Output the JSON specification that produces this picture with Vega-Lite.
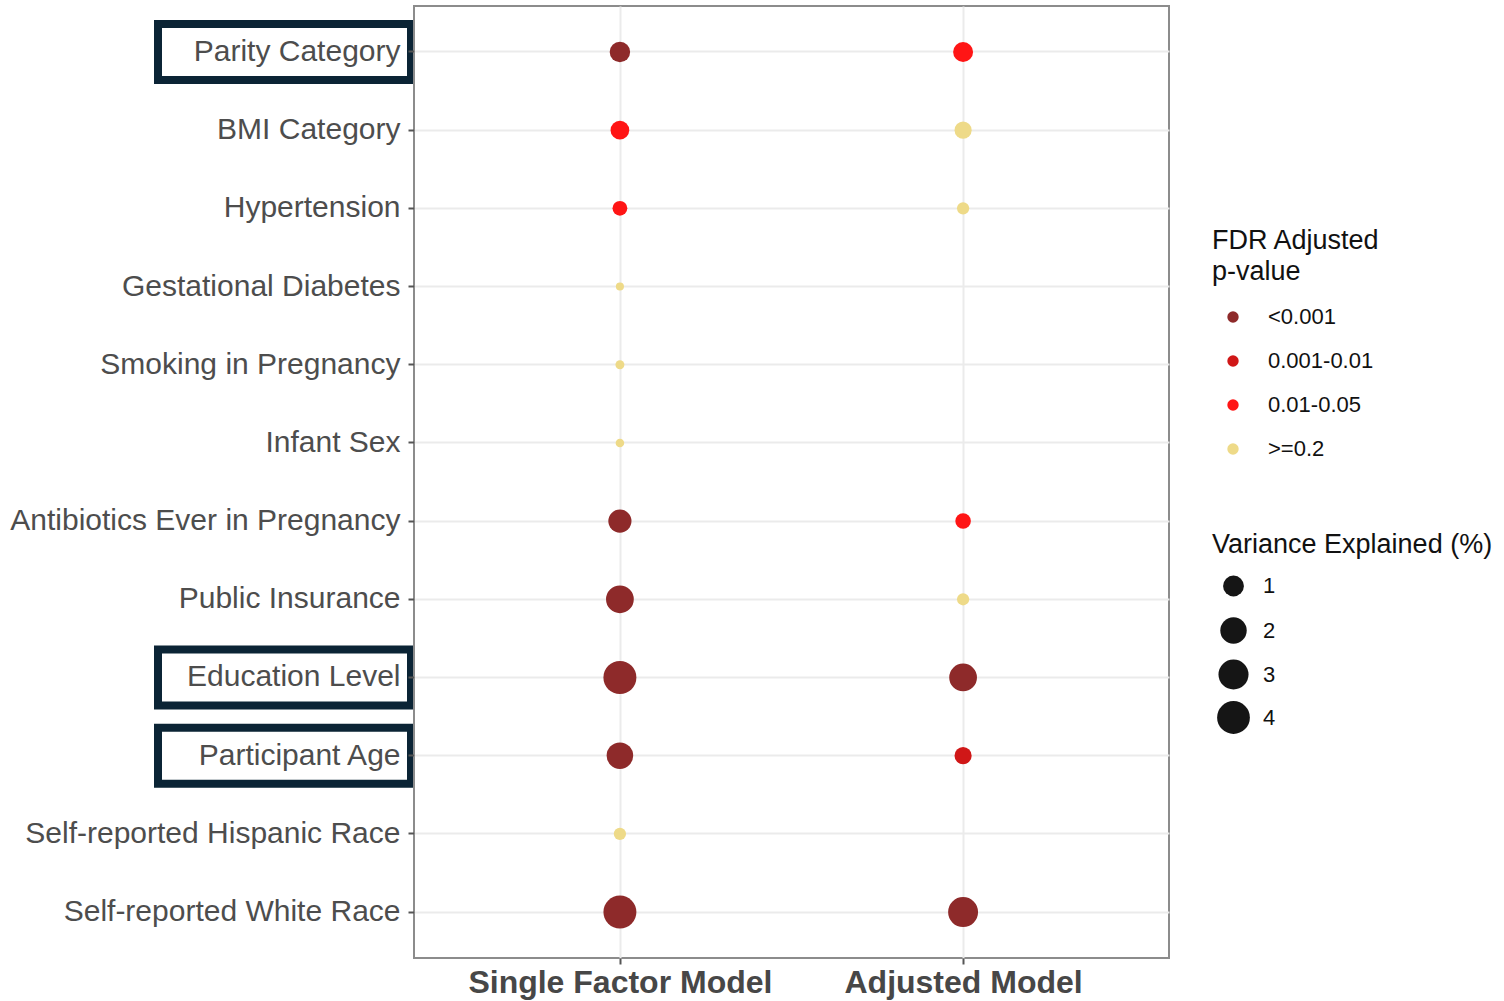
{
  "$schema": "https://vega.github.io/schema/vega-lite/v6.json",
  "background": "white",
  "padding": {"left": 8, "top": 5, "right": 5, "bottom": 5},
  "bounds": "flush",
  "spacing": 3,
  "datasets": {
    "points": [
      {"variable": "Parity Category", "model": "Single Factor Model", "fdr": "<0.001", "variance": 0.95},
      {"variable": "Parity Category", "model": "Adjusted Model", "fdr": "0.01-0.05", "variance": 0.89},
      {"variable": "BMI Category", "model": "Single Factor Model", "fdr": "0.01-0.05", "variance": 0.75},
      {"variable": "BMI Category", "model": "Adjusted Model", "fdr": ">=0.2", "variance": 0.61},
      {"variable": "Hypertension", "model": "Single Factor Model", "fdr": "0.01-0.05", "variance": 0.44},
      {"variable": "Hypertension", "model": "Adjusted Model", "fdr": ">=0.2", "variance": 0.31},
      {"variable": "Gestational Diabetes", "model": "Single Factor Model", "fdr": ">=0.2", "variance": 0.18},
      {"variable": "Smoking in Pregnancy", "model": "Single Factor Model", "fdr": ">=0.2", "variance": 0.2},
      {"variable": "Infant Sex", "model": "Single Factor Model", "fdr": ">=0.2", "variance": 0.19},
      {"variable": "Antibiotics Ever in Pregnancy", "model": "Single Factor Model", "fdr": "<0.001", "variance": 1.35},
      {"variable": "Antibiotics Ever in Pregnancy", "model": "Adjusted Model", "fdr": "0.01-0.05", "variance": 0.49},
      {"variable": "Public Insurance", "model": "Single Factor Model", "fdr": "<0.001", "variance": 2.33},
      {"variable": "Public Insurance", "model": "Adjusted Model", "fdr": ">=0.2", "variance": 0.31},
      {"variable": "Education Level", "model": "Single Factor Model", "fdr": "<0.001", "variance": 4.08},
      {"variable": "Education Level", "model": "Adjusted Model", "fdr": "<0.001", "variance": 2.33},
      {"variable": "Participant Age", "model": "Single Factor Model", "fdr": "<0.001", "variance": 2.03},
      {"variable": "Participant Age", "model": "Adjusted Model", "fdr": "0.001-0.01", "variance": 0.61},
      {"variable": "Self-reported Hispanic Race", "model": "Single Factor Model", "fdr": ">=0.2", "variance": 0.31},
      {"variable": "Self-reported White Race", "model": "Single Factor Model", "fdr": "<0.001", "variance": 4.08},
      {"variable": "Self-reported White Race", "model": "Adjusted Model", "fdr": "<0.001", "variance": 2.97}
    ],
    "boxes": [
      {"variable": "Parity Category"},
      {"variable": "Education Level"},
      {"variable": "Participant Age"}
    ]
  },
  "hconcat": [
    {
      "width": 253,
      "height": 952,
      "view": {"stroke": null},
      "data": {"name": "boxes"},
      "mark": {"type": "rect", "fill": "transparent", "stroke": "#0B2435", "strokeWidth": 8},
      "encoding": {
        "y": {
          "field": "variable", "type": "nominal", "axis": null,
          "scale": {
            "type": "band",
            "domain": ["Parity Category", "BMI Category", "Hypertension", "Gestational Diabetes", "Smoking in Pregnancy", "Infant Sex", "Antibiotics Ever in Pregnancy", "Public Insurance", "Education Level", "Participant Age", "Self-reported Hispanic Race", "Self-reported White Race"],
            "paddingInner": 0.285,
            "paddingOuter": 0.23
          }
        }
      }
    },
    {
      "width": 755,
      "height": 952,
      "view": {"stroke": "#8c8c8c", "strokeWidth": 2},
      "data": {"name": "points"},
      "mark": {"type": "circle", "opacity": 1, "strokeWidth": 0},
      "encoding": {
        "x": {
          "field": "model", "type": "nominal",
          "scale": {"type": "point", "padding": 0.6, "domain": ["Single Factor Model", "Adjusted Model"]},
          "axis": {
            "title": null, "labelAngle": 0, "labelFontSize": 32, "labelFontWeight": "bold",
            "labelColor": "#474747", "labelFont": "Liberation Sans", "labelPadding": 3, "labelLimit": 600,
            "tickSize": 6, "tickWidth": 2, "tickColor": "#555555", "domain": false,
            "grid": true, "gridColor": "#EBEBEB", "gridWidth": 2
          }
        },
        "y": {
          "field": "variable", "type": "nominal",
          "scale": {
            "type": "band",
            "domain": ["Parity Category", "BMI Category", "Hypertension", "Gestational Diabetes", "Smoking in Pregnancy", "Infant Sex", "Antibiotics Ever in Pregnancy", "Public Insurance", "Education Level", "Participant Age", "Self-reported Hispanic Race", "Self-reported White Race"],
            "paddingInner": 0.285,
            "paddingOuter": 0.23
          },
          "axis": {
            "title": null, "labelFontSize": 30, "labelColor": "#4D4D4D", "labelFont": "Liberation Sans",
            "labelPadding": 8, "tickSize": 6, "tickWidth": 2, "tickColor": "#555555", "domain": false,
            "grid": true, "gridColor": "#EBEBEB", "gridWidth": 2, "bandPosition": 0.5, "labelLimit": 600
          }
        },
        "color": {
          "field": "fdr", "type": "nominal",
          "scale": {"domain": ["<0.001", "0.001-0.01", "0.01-0.05", ">=0.2"], "range": ["#8E2A2A", "#D01717", "#FF1515", "#EEDA88"]},
          "legend": {
            "title": ["FDR Adjusted", "p-value"], "orient": "none", "legendX": 798, "legendY": 222,
            "titleFontSize": 27, "titleFontWeight": "normal", "titleColor": "#111111", "titleFont": "Liberation Sans",
            "titleLineHeight": 31, "titlePadding": 20, "titleLimit": 600,
            "labelFontSize": 22, "labelColor": "#111111", "labelFont": "Liberation Sans",
            "symbolType": "circle", "symbolSize": 130, "symbolStrokeWidth": 0, "symbolOffset": 10,
            "labelOffset": 24, "rowPadding": 22, "gridAlign": "all", "padding": 0
          }
        },
        "size": {
          "field": "variance", "type": "quantitative",
          "scale": {"type": "sqrt", "zero": false, "domain": [0.16, 4.1], "range": [50, 1090]},
          "legend": {
            "title": "Variance Explained (%)", "orient": "none", "legendX": 798, "legendY": 526,
            "values": [1, 2, 3, 4],
            "titleFontSize": 27, "titleFontWeight": "normal", "titleColor": "#111111", "titleFont": "Liberation Sans",
            "titlePadding": 16, "titleLimit": 600,
            "labelFontSize": 22, "labelColor": "#111111", "labelFont": "Liberation Sans",
            "symbolType": "circle", "symbolFillColor": "#151515", "symbolStrokeWidth": 0, "symbolOpacity": 1,
            "symbolOffset": 5, "labelOffset": 13, "rowPadding": 9, "gridAlign": "all", "padding": 0
          }
        }
      }
    }
  ],
  "resolve": {"scale": {"y": "independent"}, "legend": {"color": "independent", "size": "independent"}}
}
